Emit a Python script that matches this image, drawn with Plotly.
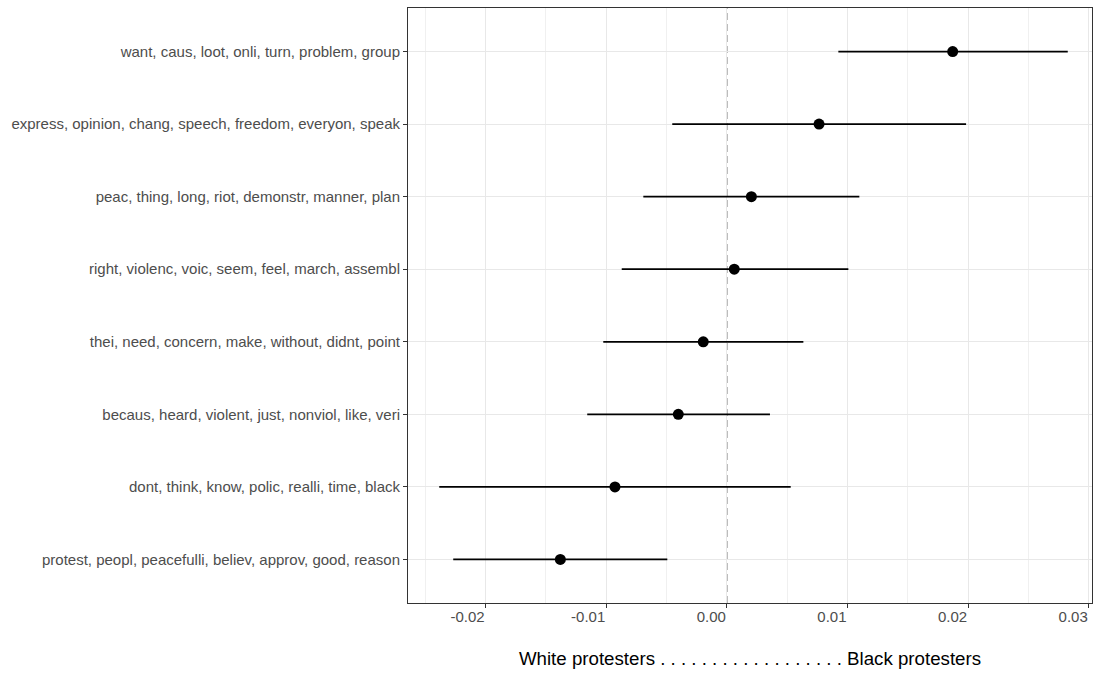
import plotly.graph_objects as go

topics = [
    "want, caus, loot, onli, turn, problem, group",
    "express, opinion, chang, speech, freedom, everyon, speak",
    "peac, thing, long, riot, demonstr, manner, plan",
    "right, violenc, voic, seem, feel, march, assembl",
    "thei, need, concern, make, without, didnt, point",
    "becaus, heard, violent, just, nonviol, like, veri",
    "dont, think, know, polic, realli, time, black",
    "protest, peopl, peacefulli, believ, approv, good, reason",
]
estimate = [0.01872, 0.00764, 0.00203, 0.00061, -0.00196, -0.00403, -0.00928, -0.01381]
lower = [0.00924, -0.00453, -0.00693, -0.00872, -0.01025, -0.01158, -0.02385, -0.02269]
upper = [0.02826, 0.01983, 0.01098, 0.01007, 0.00634, 0.00357, 0.00529, -0.00494]

tick_vals = [-0.02, -0.01, 0.0, 0.01, 0.02, 0.03]
tick_text = ["-0.02", "-0.01", "0.00", "0.01", "0.02", "0.03"]
x_title = "White protesters " + " ".join(["."] * 18) + " Black protesters"

FONT = "Liberation Sans, Arial, Helvetica, sans-serif"

fig = go.Figure()
fig.add_trace(go.Scatter(
    x=estimate,
    y=topics,
    mode="markers",
    marker=dict(color="black", size=11),
    error_x=dict(
        type="data",
        symmetric=False,
        array=[u - e for u, e in zip(upper, estimate)],
        arrayminus=[e - l for e, l in zip(estimate, lower)],
        color="black",
        thickness=1.7,
        width=0,
    ),
    showlegend=False,
    hoverinfo="x+y",
))

fig.add_shape(type="line", xref="x", yref="paper", x0=0, x1=0, y0=0, y1=1,
              line=dict(color="#999999", width=1.5, dash="7px,4px"), layer="below")

fig.update_layout(
    width=1094, height=673,
    margin=dict(l=408, r=2, t=8, b=70),
    plot_bgcolor="white",
    paper_bgcolor="white",
    font=dict(family=FONT, size=15, color="#4d4d4d"),
    xaxis=dict(
        range=[-0.02644, 0.03027],
        tickvals=tick_vals,
        ticktext=tick_text,
        ticks="outside", ticklen=4, tickcolor="#333333", tickwidth=1,
        ticklabelposition="outside left",
        tickfont=dict(size=15, color="#4d4d4d"),
        showgrid=True, gridcolor="#e8e8e8", gridwidth=1.2,
        minor=dict(dtick=0.005, tick0=0.005, showgrid=True, gridcolor="#f0f0f0", gridwidth=0.7),
        showline=True, linecolor="#333333", linewidth=1, mirror=True,
        zeroline=False,
        title=dict(text=x_title, font=dict(size=18.7, color="black"), standoff=27),
    ),
    yaxis=dict(
        type="category",
        categoryorder="array",
        categoryarray=topics[::-1],
        range=[-0.6, len(topics) - 0.4],
        ticks="outside", ticklen=4, tickcolor="#333333", tickwidth=1,
        tickfont=dict(size=15, color="#4d4d4d"),
        showgrid=True, gridcolor="#e8e8e8", gridwidth=1.2,
        showline=True, linecolor="#333333", linewidth=1, mirror=True,
        zeroline=False,
    ),
)

fig.write_html("out.html")
